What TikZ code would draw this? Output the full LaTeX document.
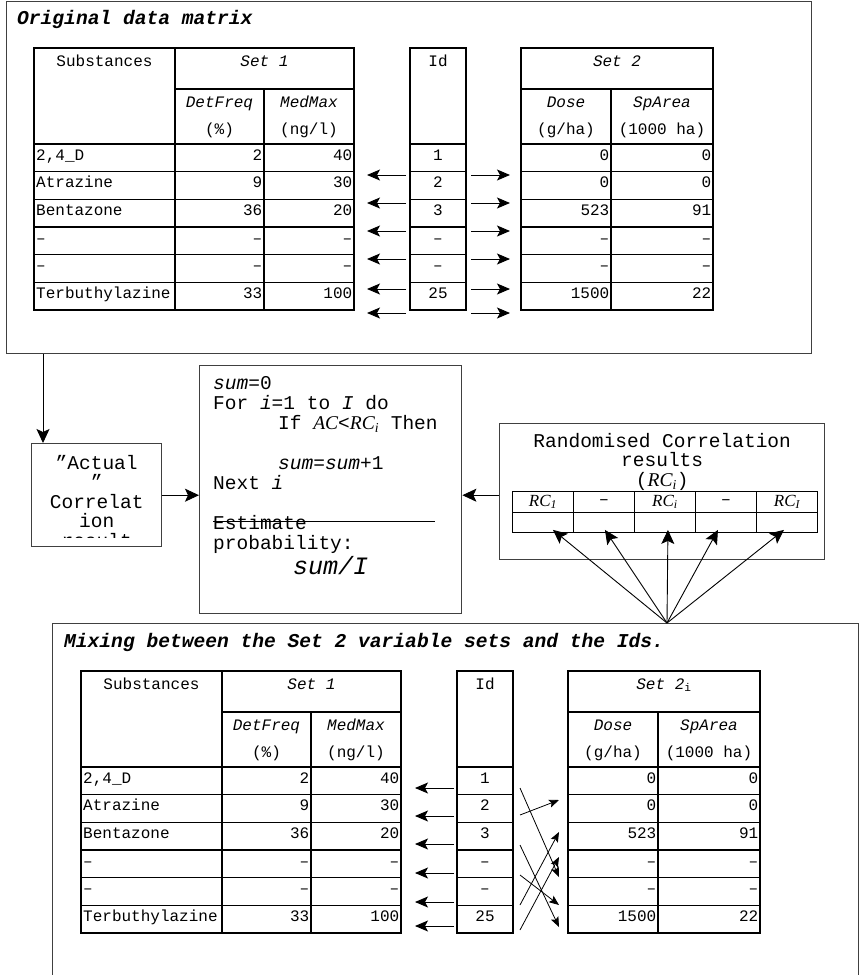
\documentclass[tikz,border=0pt]{standalone}
\usepackage{fontspec}
\setmainfont{Liberation Mono}
\newfontfamily\timesfont{Liberation Serif}
\usetikzlibrary{calc,arrows.meta}

\tikzset{
	grid/.style={line width=1.1pt},
	frame/.style={draw=black!75, line width=1.4pt, inner sep=0pt},
	cell/.style={font=\fontsize{16}{18}\selectfont, inner sep=0pt},
	code/.style={font=\fontsize{19.5}{20}\selectfont, inner sep=0pt},
	titlefont/.style={font=\fontsize{19.6}{20}\selectfont\bfseries\itshape, inner sep=0pt},
	rccell/.style={draw, line width=0.9pt, minimum width=61pt, minimum height=20.5pt, inner sep=0pt, font=\fontsize{17}{18}\selectfont},
	rowarrow/.style={-{Stealth[length=13pt,width=11pt,inset=3pt]}, line width=0.9pt},
	linkarrow/.style={-{Stealth[length=14pt,width=13pt,inset=3pt]}, line width=0.9pt},
	mixarrow/.style={-{Stealth[length=10pt,width=8pt,inset=2pt]}, line width=0.8pt},
}

\def\rc#1{{\timesfont\itshape RC\textsubscript{#1}}}

% one data matrix: Set 1 table, Id column and Set 2 table
\def\datamatrix#1#2{%
	\draw[grid] (34,48) rectangle (354,310);
	\draw[grid] (175,48) -- (175,310);
	\draw[grid] (264,89) -- (264,310);
	\draw[grid] (175,89) -- (354,89);
	\draw[grid] (410,48) rectangle (466,310);
	\draw[grid] (521,48) rectangle (713,310);
	\draw[grid] (611,89) -- (611,310);
	\draw[grid] (521,89) -- (713,89);
	\foreach \r in {0,...,5}{
		\draw[grid] (34,144+27.67*\r) -- (354,144+27.67*\r);
		\draw[grid] (410,144+27.67*\r) -- (466,144+27.67*\r);
		\draw[grid] (521,144+27.67*\r) -- (713,144+27.67*\r);
	}
	\node[cell, anchor=base] (#1subh) at (104.5,66) {Substances};
	\node[cell, anchor=base] (#1seth) at (264.5,66) {\textit{Set 1}};
	\node[cell, anchor=base] (#1freqh) at (219.5,107) {\textit{DetFreq}};
	\node[cell, anchor=base] (#1frequ) at (219.5,134) {(\%)};
	\node[cell, anchor=base] (#1maxh) at (309,107) {\textit{MedMax}};
	\node[cell, anchor=base] (#1maxu) at (309,134) {(ng/l)};
	\node[cell, anchor=base] (#1idh) at (438,66) {Id};
	\node[cell, anchor=base] (#1set2h) at (617,66) {#2};
	\node[cell, anchor=base] (#1doseh) at (566,107) {\textit{Dose}};
	\node[cell, anchor=base] (#1doseu) at (566,134) {(g/ha)};
	\node[cell, anchor=base] (#1areah) at (662,107) {\textit{SpArea}};
	\node[cell, anchor=base] (#1areau) at (662,134) {(1000 ha)};
	\foreach \s/\f/\m/\i/\d/\a [count=\k] in {{2,4\_D}/2/40/1/0/0, Atrazine/9/30/2/0/0, Bentazone/36/20/3/523/91, –/–/–/–/–/–, –/–/–/–/–/–, Terbuthylazine/33/100/25/1500/22}{
		\node[cell, anchor=base west] (#1sub\k) at (36,132.33+27.67*\k) {\s};
		\node[cell, anchor=base east] (#1freq\k) at (262.5,132.33+27.67*\k) {\f};
		\node[cell, anchor=base east] (#1max\k) at (352.5,132.33+27.67*\k) {\m};
		\node[cell, anchor=base] (#1id\k) at (438,132.33+27.67*\k) {\i};
		\node[cell, anchor=base east] (#1dose\k) at (609.5,132.33+27.67*\k) {\d};
		\node[cell, anchor=base east] (#1area\k) at (711.5,132.33+27.67*\k) {\a};
	}
}

\begin{document}
\begin{tikzpicture}[x=1pt, y=-1pt]
	%%%%% START %%%%%
	\useasboundingbox (0,0) rectangle (860,975);
	\clip (0,0) rectangle (860,975);
	
	\node[frame, minimum width=805pt, minimum height=352pt, anchor=north west] (orig) at (6,1) {};
	\node[titlefont, anchor=base west] (origtitle) at (17,24) {Original data matrix};
	\datamatrix{o}{\textit{Set 2}}
	
	\foreach \y [count=\k] in {175,203,231,259,289,313}{
		\coordinate (oid\k) at (406,\y);
		\coordinate (oset\k) at (367,\y);
		\draw[rowarrow] (oid\k) -- (oset\k);
		\coordinate (oidr\k) at (471,\y);
		\coordinate (osetr\k) at (510,\y);
		\draw[rowarrow] (oidr\k) -- (osetr\k);
	}
	
	\node[frame, minimum width=130pt, minimum height=103pt, anchor=north west] (actual) at (31,443) {};
	\begin{scope}
		\clip (actual.north west) rectangle ([yshift=10pt]actual.south east);
		\node[code, font=\fontsize{19.5}{19.5}\selectfont, align=center, anchor=north] (actualtext) at ([yshift=-12pt]actual.north) {”Actual\\”\\Correlat\\ion\\result};
	\end{scope}
	
	\node[frame, minimum width=262pt, minimum height=248pt, anchor=north west] (loop) at (199,365) {};
	\node[code, align=left, anchor=north west] (loopcode) at (213,376) {\textit{sum}=0\\
		For \textit{i}=1 to \textit{I} do\\
		\hspace*{65pt}If {\timesfont\itshape AC}<\rc{i} Then\\[20pt]
		\hspace*{65pt}\textit{sum}=\textit{sum}+1\\
		Next \textit{i}\\[20pt]
		Estimate\\
		probability:\\[2pt]
		\hspace*{80pt}{\fontsize{25}{26}\selectfont\textit{sum/I}}};
	\draw[line width=0.8pt] (213,521) -- (435,521);
	
	\node[frame, minimum width=325pt, minimum height=136pt, anchor=north west] (rand) at (499,423) {};
	\node[code, font=\fontsize{19.5}{19.5}\selectfont, align=center, anchor=north] (randtitle) at ([yshift=-10pt]rand.north) {Randomised Correlation\\results\\(\rc{i})};
	\foreach \t [count=\k] in {\rc{1},–,\rc{i},–,\rc{I}}{
		\node[rccell, anchor=north west] (rca\k) at (451+61*\k,491) {\t};
		\node[rccell, anchor=north west] (rcb\k) at (451+61*\k,511.5) {};
	}
	
	\coordinate (drop) at ([xshift=12pt]actual.north west);
	\draw[linkarrow] (drop |- orig.south) -- (drop);
	\draw[linkarrow] (actual.east) -- (actual.east -| loop.west);
	\draw[linkarrow] (rand.west |- actual.east) -- (loop.east |- actual.east);
	
	\node[frame, minimum width=806pt, minimum height=370pt, anchor=north west] (mix) at (52,623) {};
	\node[titlefont, anchor=base west] (mixtitle) at (64,647) {Mixing between the Set 2 variable sets and the Ids.};
	\begin{scope}[shift={(47,623)}]
		\datamatrix{m}{\textit{Set 2}\textsubscript{i}}
	\end{scope}
	
	\coordinate (fan) at (mix.north -| 667,0);
	\foreach \dx [count=\k] in {10,1,3,-8,-3}
		\draw[linkarrow] (fan) -- ([xshift=\dx pt, yshift=3pt]rcb\k.south);
	
	\foreach \y [count=\k] in {788,816,844,873,902,926}{
		\coordinate (mid\k) at (454,\y);
		\coordinate (mset\k) at (415,\y);
		\draw[rowarrow] (mid\k) -- (mset\k);
	}
	\foreach \a/\b [count=\k] in {788/877, 815/800, 845/927, 875/905, 905/832, 930/857}{
		\coordinate (mfrom\k) at (520,\a);
		\coordinate (mto\k) at (559,\b);
		\draw[mixarrow] (mfrom\k) -- (mto\k);
	}
	
	%%%%% END %%%%%
\end{tikzpicture}
\end{document}
